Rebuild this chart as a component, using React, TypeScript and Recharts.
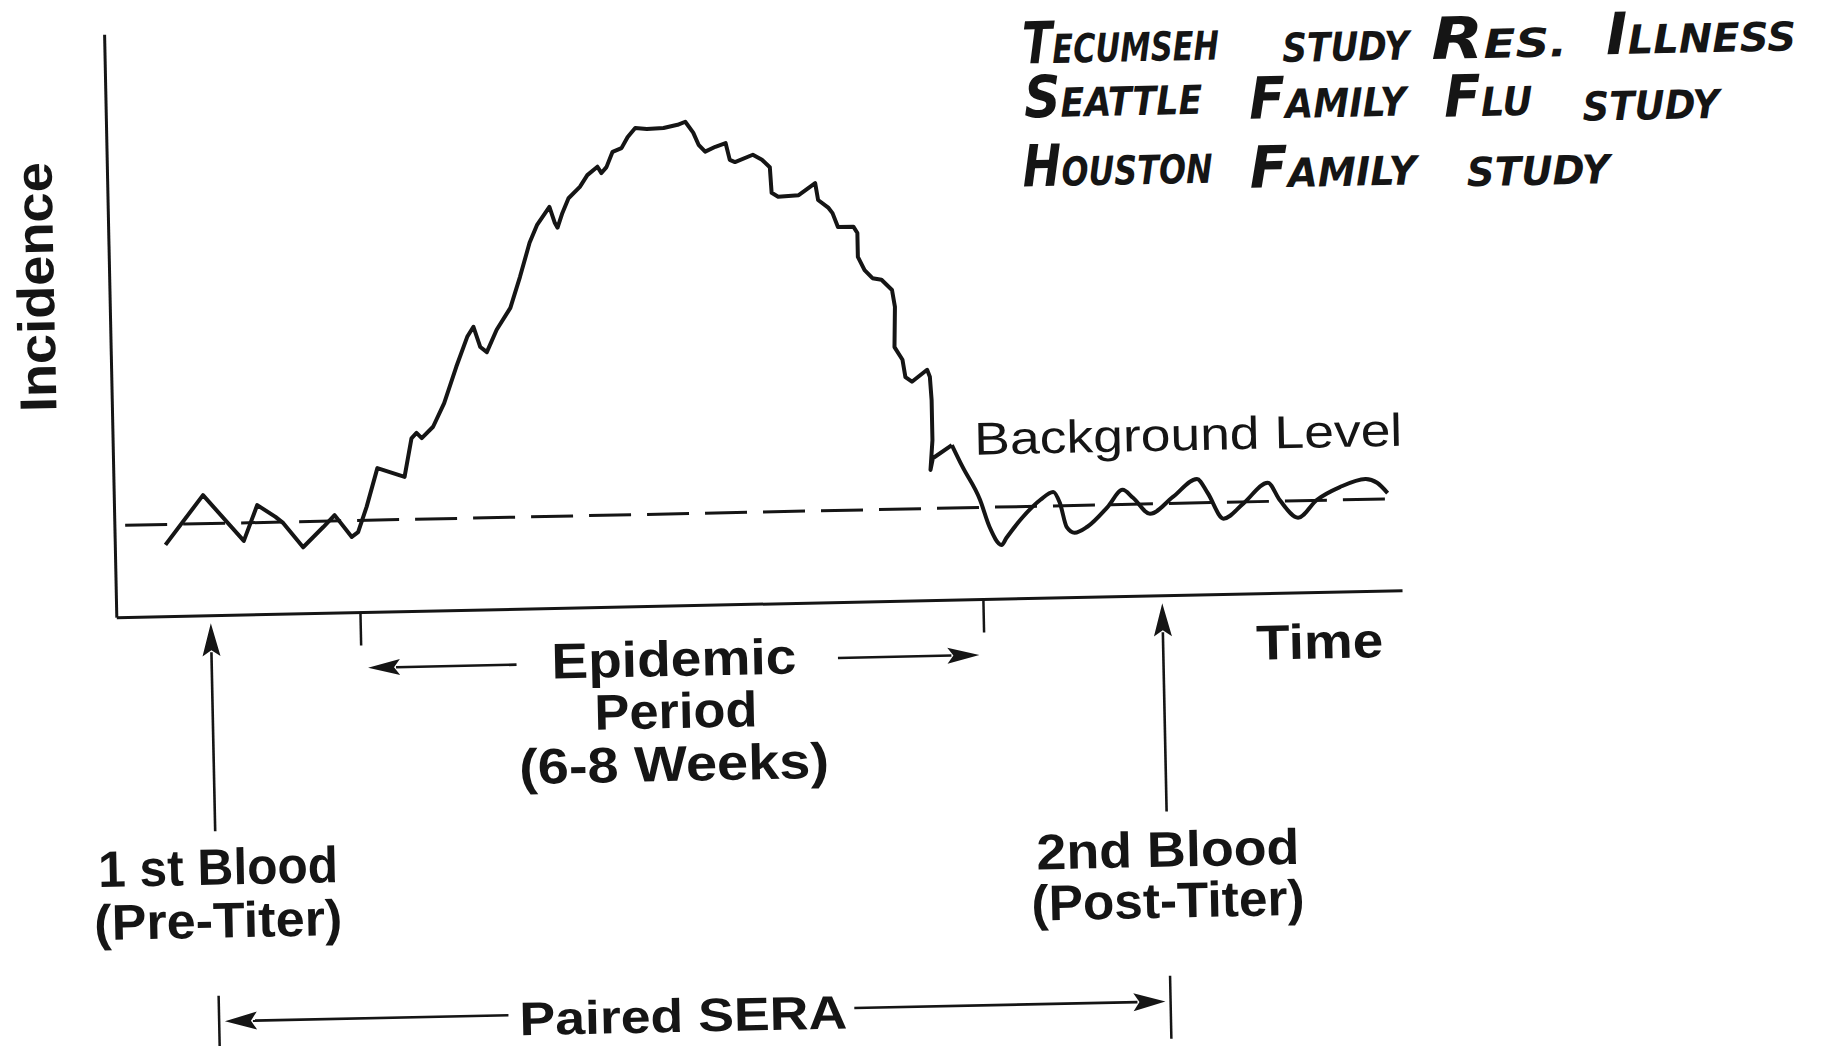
import { LineChart, Line, XAxis, YAxis, ReferenceLine } from 'recharts'

// Incidence curve (time and incidence in arbitrary 0-100 units)
const time = [
  3.9, 6.9, 10.0, 11.1, 12.5, 13.1, 14.6, 16.2, 17.1, 18.4,
  18.9, 19.6, 20.5, 22.6, 23.2, 23.6, 24.0, 24.9, 25.8, 26.8,
  27.7, 28.2, 28.7, 29.2, 30.0, 31.1, 31.9, 32.7, 33.3, 34.3,
  34.7, 34.9, 35.3, 35.8, 36.7, 37.3, 38.1, 38.4, 38.8, 39.3,
  40.0, 40.5, 41.1, 42.0, 43.3, 44.4, 45.0, 45.6, 46.0, 46.5,
  47.3, 48.1, 48.4, 48.8, 50.2, 50.9, 51.5, 51.6, 52.1, 53.7,
  55.0, 55.2, 56.0, 56.3, 56.7, 57.9, 58.2, 58.2, 58.7, 59.3,
  60.0, 60.8, 61.0, 60.9, 61.5, 61.7, 62.2, 63.4, 63.6, 63.7,
  63.7, 63.5, 63.7, 65.2, 66.0, 67.3, 68.0, 68.9, 69.3, 70.6,
  72.0, 73.0, 73.5, 74.0, 74.6, 75.6, 77.2, 78.4, 79.2, 80.5,
  82.3, 84.2, 85.0, 86.2, 87.8, 89.7, 90.6, 92.0, 93.5, 95.3,
  97.3, 98.2, 99.0,
]
const incidence = [
  12.3, 20.7, 12.7, 18.8, 16.7, 15.6, 11.4, 14.8, 16.8, 13.0,
  13.8, 18.1, 24.7, 23.1, 29.7, 30.6, 29.7, 31.6, 35.6, 41.8,
  46.9, 48.6, 45.1, 44.2, 48.0, 51.7, 57.0, 62.8, 65.8, 68.9,
  66.1, 65.3, 67.8, 70.3, 72.2, 74.2, 75.6, 74.5, 75.5, 78.1,
  78.7, 80.6, 82.1, 81.9, 82.0, 82.5, 83.0, 81.1, 79.0, 77.8,
  78.6, 79.2, 76.3, 75.9, 77.1, 76.2, 74.9, 70.5, 69.8, 70.0,
  72.0, 69.1, 67.7, 66.8, 64.4, 64.4, 63.3, 59.2, 56.9, 55.5,
  55.2, 53.4, 50.5, 43.6, 41.4, 38.4, 37.6, 39.6, 38.4, 34.4,
  27.5, 22.4, 24.4, 26.6, 22.8, 17.1, 12.4, 9.3, 10.5, 14.0,
  16.9, 18.2, 16.3, 12.1, 11.1, 12.1, 15.4, 18.3, 16.9, 14.1,
  16.9, 19.9, 17.5, 13.0, 15.6, 19.0, 16.0, 12.9, 15.9, 18.0,
  19.3, 18.6, 16.8,
]
// from this point on the hand-drawn trace is a smooth wave
const smoothFrom = 83

const backgroundLevel = 15.8
const bloodDraws = [7.3, 81.3] // 1st and 2nd blood
const epidemicBounds = [18.95, 67.4] // start / end of epidemic period
const epidemicArrowTails = [31.0, 56.0]
const seraArrowTails = [29.8, 56.7]

// vertical levels (in incidence units) of the notes drawn below the time axis
const bloodArrowFrom = -37
const bloodArrowTo = -1.3
const epidemicArrowLevel = -9.5
const seraArrowLevel = -69.6
const seraBarTop = -65.2
const seraBarBottom = -76

const data = time.map((t, i) => ({
  t,
  rough: i <= smoothFrom ? incidence[i] : null,
  smooth: i >= smoothFrom ? incidence[i] : null,
}))

const INK = '#151515'
const SANS = "'Liberation Sans', Arial, Helvetica, sans-serif"
const HAND = "'DejaVu Sans', sans-serif"

function arrowShape(headLength: number, headHalf: number) {
  return (p: any) => {
    const { x1, y1, x2, y2 } = p
    const dx = x2 - x1
    const dy = y2 - y1
    const len = Math.hypot(dx, dy) || 1
    const ux = dx / len
    const uy = dy / len
    const bx = x2 - ux * headLength
    const by = y2 - uy * headLength
    const px = -uy * headHalf
    const py = ux * headHalf
    return (
      <g>
        <line x1={x1} y1={y1} x2={bx + ux * 4} y2={by + uy * 4} stroke={INK} strokeWidth={2.6} />
        <polygon
          points={`${x2},${y2} ${bx + px},${by + py} ${bx + ux * 6},${by + uy * 6} ${bx - px},${by - py}`}
          fill={INK}
        />
      </g>
    )
  }
}

const handWords = [
  { x: 1032, y: 66, w: 197, big: 'T', rest: 'ECUMSEH' },
  { x: 1292, y: 70, w: 127, big: '', rest: 'STUDY' },
  { x: 1441, y: 70, w: 136, big: 'R', rest: 'ES.' },
  { x: 1616, y: 69, w: 190, big: 'I', rest: 'LLNESS' },
  { x: 1033, y: 120, w: 178, big: 'S', rest: 'EATTLE' },
  { x: 1258, y: 126, w: 157, big: 'F', rest: 'AMILY' },
  { x: 1453, y: 128, w: 88, big: 'F', rest: 'LU' },
  { x: 1591, y: 135, w: 137, big: '', rest: 'STUDY' },
  { x: 1030, y: 189, w: 190, big: 'H', rest: 'OUSTON' },
  { x: 1257, y: 195, w: 167, big: 'F', rest: 'AMILY' },
  { x: 1474, y: 198, w: 143, big: '', rest: 'STUDY' },
]

function Labels() {
  const bold = { fontFamily: SANS, fontWeight: 700, fill: INK } as const
  return (
    <svg
      width={1821}
      height={1046}
      style={{ position: 'absolute', left: 0, top: 0, pointerEvents: 'none' }}
    >
      <text x={59} y={269} transform="rotate(-90 59 269)" textAnchor="middle" fontSize={52}
        textLength={250} lengthAdjust="spacingAndGlyphs" {...bold}>Incidence</text>

      <text x={1190} y={456} textAnchor="middle" fontSize={46} fontFamily={SANS} fill={INK}
        textLength={428} lengthAdjust="spacingAndGlyphs">Background Level</text>

      <text x={1317} y={667} textAnchor="middle" fontSize={49} textLength={127}
        lengthAdjust="spacingAndGlyphs" {...bold}>Time</text>

      <text x={671} y={671} textAnchor="middle" fontSize={50} textLength={245}
        lengthAdjust="spacingAndGlyphs" {...bold}>Epidemic</text>
      <text x={672} y={723} textAnchor="middle" fontSize={50} textLength={163}
        lengthAdjust="spacingAndGlyphs" {...bold}>Period</text>
      <text x={669} y={776} textAnchor="middle" fontSize={50} textLength={310}
        lengthAdjust="spacingAndGlyphs" {...bold}>(6-8 Weeks)</text>

      <text x={211} y={870} textAnchor="middle" fontSize={51} textLength={240}
        lengthAdjust="spacingAndGlyphs" {...bold}>1 st Blood</text>
      <text x={210} y={923} textAnchor="middle" fontSize={50} textLength={248}
        lengthAdjust="spacingAndGlyphs" {...bold}>(Pre-Titer)</text>

      <text x={1161} y={872} textAnchor="middle" fontSize={50} textLength={263}
        lengthAdjust="spacingAndGlyphs" {...bold}>2nd Blood</text>
      <text x={1160} y={923} textAnchor="middle" fontSize={50} textLength={273}
        lengthAdjust="spacingAndGlyphs" {...bold}>(Post-Titer)</text>

      <text x={673} y={1027} textAnchor="middle" fontSize={47} textLength={328}
        lengthAdjust="spacingAndGlyphs" {...bold}>Paired SERA</text>

      {handWords.map((w, i) => (
        <text key={i} x={w.x} y={w.y} fontFamily={HAND} fontStyle="italic" fontWeight={700}
          fill={INK} textLength={w.w} lengthAdjust="spacingAndGlyphs">
          {w.big && <tspan fontSize={58}>{w.big}</tspan>}
          <tspan fontSize={40}>{w.rest}</tspan>
        </text>
      ))}
    </svg>
  )
}

export default function App() {
  return (
    <div
      style={{
        position: 'fixed',
        left: 0,
        top: 0,
        width: 1821,
        height: 1046,
        overflow: 'hidden',
        background: '#fff',
      }}
    >
      {/* the scan is tilted slightly counter-clockwise */}
      <div
        style={{
          position: 'absolute',
          left: 0,
          top: 0,
          width: 1821,
          height: 1046,
          transform: 'rotate(-1.2deg)',
        }}
      >
        <LineChart
          width={1821}
          height={1046}
          data={data}
          margin={{ top: 18, right: 420, bottom: 415, left: 55 }}
        >
          <XAxis
            type="number"
            dataKey="t"
            domain={[0, 100]}
            ticks={epidemicBounds}
            tick={() => <g />}
            tickSize={33}
            height={30}
            axisLine={{ stroke: INK, strokeWidth: 3 }}
            tickLine={{ stroke: INK, strokeWidth: 2.5 }}
          />
          <YAxis
            type="number"
            domain={[0, 100]}
            width={60}
            tick={false}
            tickLine={false}
            axisLine={{ stroke: INK, strokeWidth: 3 }}
          />

          <ReferenceLine
            segment={[{ x: 0.8, y: backgroundLevel }, { x: 100, y: backgroundLevel }]}
            stroke={INK}
            strokeWidth={3}
            strokeDasharray="42 16"
          />

          <Line
            type="linear"
            dataKey="rough"
            stroke={INK}
            strokeWidth={4}
            strokeLinejoin="round"
            dot={false}
            activeDot={false}
            isAnimationActive={false}
          />
          <Line
            type="monotone"
            dataKey="smooth"
            stroke={INK}
            strokeWidth={4}
            strokeLinejoin="round"
            dot={false}
            activeDot={false}
            isAnimationActive={false}
          />

          {/* blood draw arrows pointing at the time axis */}
          {bloodDraws.map((b, i) => (
            <ReferenceLine
              key={`blood-${i}`}
              segment={[{ x: b, y: bloodArrowFrom }, { x: b, y: bloodArrowTo }]}
              ifOverflow="visible"
              shape={arrowShape(33, 9)}
            />
          ))}

          {/* epidemic period arrows */}
          <ReferenceLine
            segment={[
              { x: epidemicArrowTails[0], y: epidemicArrowLevel },
              { x: epidemicBounds[0] + 0.5, y: epidemicArrowLevel },
            ]}
            ifOverflow="visible"
            shape={arrowShape(32, 8)}
          />
          <ReferenceLine
            segment={[
              { x: epidemicArrowTails[1], y: epidemicArrowLevel },
              { x: epidemicBounds[1] - 0.4, y: epidemicArrowLevel },
            ]}
            ifOverflow="visible"
            shape={arrowShape(32, 8)}
          />

          {/* paired sera span */}
          {bloodDraws.map((b, i) => (
            <ReferenceLine
              key={`bar-${i}`}
              segment={[{ x: b, y: seraBarTop }, { x: b, y: seraBarBottom }]}
              ifOverflow="visible"
              stroke={INK}
              strokeWidth={2.5}
            />
          ))}
          <ReferenceLine
            segment={[
              { x: seraArrowTails[0], y: seraArrowLevel },
              { x: bloodDraws[0] + 0.45, y: seraArrowLevel },
            ]}
            ifOverflow="visible"
            shape={arrowShape(32, 9)}
          />
          <ReferenceLine
            segment={[
              { x: seraArrowTails[1], y: seraArrowLevel },
              { x: bloodDraws[1] - 0.4, y: seraArrowLevel },
            ]}
            ifOverflow="visible"
            shape={arrowShape(32, 9)}
          />
        </LineChart>
        <Labels />
      </div>
    </div>
  )
}
